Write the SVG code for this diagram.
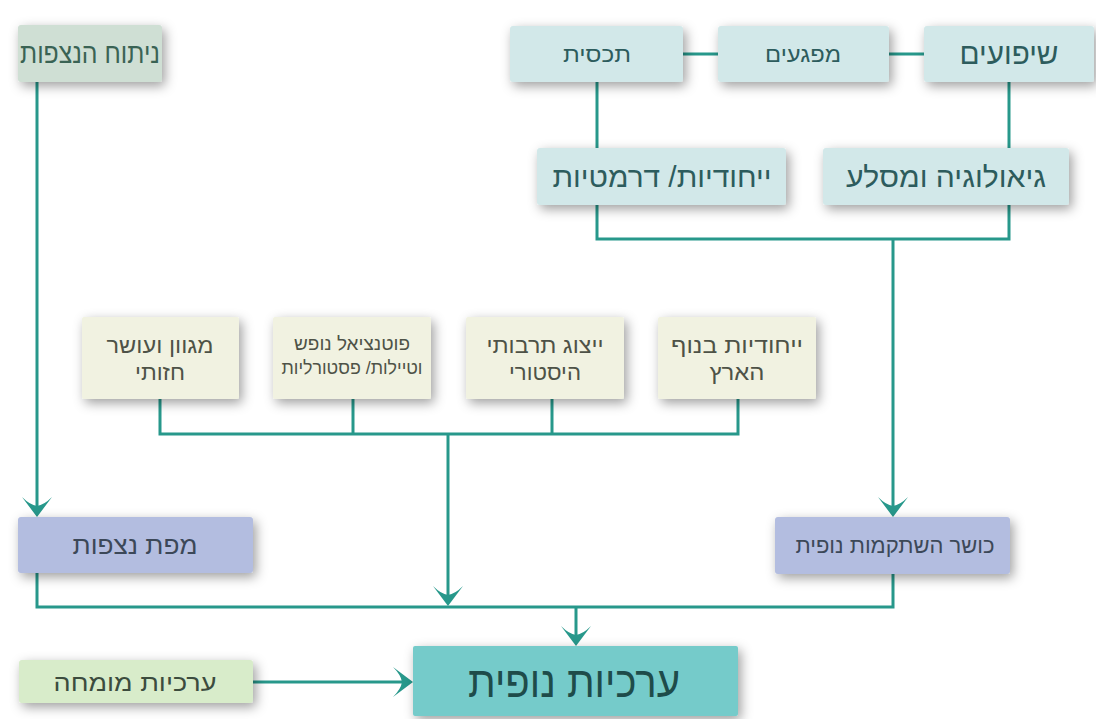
<svg xmlns="http://www.w3.org/2000/svg" width="1096" height="719" viewBox="0 0 1096 719">
<defs>
<filter id="sh" x="-20%" y="-40%" width="140%" height="190%">
<feDropShadow dx="3" dy="4" stdDeviation="6" flood-color="#000" flood-opacity="0.38"/>
</filter>
<marker id="ah" markerUnits="userSpaceOnUse" markerWidth="20" markerHeight="32" viewBox="0 0 20 32" refX="16" refY="16" orient="auto">
<path d="M20,16 L0,1 Q8,9 9,16 Q8,23 0,31 Z" fill="#27988b"/>
</marker>
</defs>
<style>
.n rect{filter:url(#sh);}
.c path{fill:none;stroke:#27988b;stroke-width:3;}
text{font-family:"Liberation Sans","DejaVu Sans",sans-serif;text-anchor:middle;direction:rtl;}
.teal rect{fill:#d2e8e9;} .teal text{fill:#2d5c5d;}
.cream rect{fill:#f1f2e1;} .cream text{fill:#4e5247;}
.lav rect{fill:#b3bde0;} .lav text{fill:#3c4858;}
.grn rect{fill:#d8ecca;} .grn text{fill:#3c4c3e;}
.gg rect{fill:#cfdfd4;} .gg text{fill:#3a6354;}
.main rect{fill:#74cbca;} .main text{fill:#1e4c4a;}
</style>
<rect width="1096" height="719" fill="#ffffff"/>
<g id="connectors" class="c">
<path d="M37,82 V513" marker-end="url(#ah)"/>
<path d="M683,54 H718"/>
<path d="M889,54 H924"/>
<path d="M597,82 V148"/>
<path d="M1009,82 V148"/>
<path d="M597,205 V239 H1009 V205"/>
<path d="M893,239 V513" marker-end="url(#ah)"/>
<path d="M160,399 V434 H738 V399"/>
<path d="M353,399 V434"/>
<path d="M552,399 V434"/>
<path d="M448,434 V602" marker-end="url(#ah)"/>
<path d="M37,573 V607 H893 V574"/>
<path d="M576,607 V642" marker-end="url(#ah)"/>
<path d="M253,682 H409" marker-end="url(#ah)"/>
</g>
<g id="n-nituach" class="n gg"><rect x="18" y="25" width="144" height="57" rx="3"/><text x="90" y="63" font-size="28" textLength="140" lengthAdjust="spacingAndGlyphs">ניתוח הנצפות</text></g>
<g id="n-tachsit" class="n teal"><rect x="510" y="26" width="173" height="56" rx="3"/><text x="597" y="62" font-size="22" textLength="68" lengthAdjust="spacingAndGlyphs">תכסית</text></g>
<g id="n-mifgaim" class="n teal"><rect x="718" y="26" width="171" height="56" rx="3"/><text x="803" y="62" font-size="22" textLength="76" lengthAdjust="spacingAndGlyphs">מפגעים</text></g>
<g id="n-shipuim" class="n teal"><rect x="924" y="26" width="170" height="56" rx="3"/><text x="1009" y="64" font-size="30" textLength="99" lengthAdjust="spacingAndGlyphs">שיפועים</text></g>
<g id="n-yichudiyut" class="n teal"><rect x="537" y="148" width="249" height="57" rx="3"/><text x="662" y="187" font-size="29" textLength="219" lengthAdjust="spacingAndGlyphs">ייחודיות/ דרמטיות</text></g>
<g id="n-geologia" class="n teal"><rect x="823" y="148" width="246" height="57" rx="3"/><text x="946" y="187" font-size="29" textLength="200" lengthAdjust="spacingAndGlyphs">גיאולוגיה ומסלע</text></g>
<g id="n-migvan" class="n cream"><rect x="82" y="317" width="157" height="82" rx="2"/><text x="160" y="353" font-size="22" textLength="107" lengthAdjust="spacingAndGlyphs">מגוון ועושר</text><text x="160" y="380" font-size="22" textLength="50" lengthAdjust="spacingAndGlyphs">חזותי</text></g>
<g id="n-potential" class="n cream"><rect x="273" y="317" width="158" height="82" rx="2"/><text x="352" y="350" font-size="19" textLength="116" lengthAdjust="spacingAndGlyphs">פוטנציאל נופש</text><text x="352" y="374" font-size="19" textLength="141" lengthAdjust="spacingAndGlyphs">וטיילות/ פסטורליות</text></g>
<g id="n-yitzug" class="n cream"><rect x="466" y="317" width="158" height="82" rx="2"/><text x="545" y="353" font-size="22" textLength="117" lengthAdjust="spacingAndGlyphs">ייצוג תרבותי</text><text x="545" y="380" font-size="22" textLength="72" lengthAdjust="spacingAndGlyphs">היסטורי</text></g>
<g id="n-nof" class="n cream"><rect x="658" y="317" width="158" height="82" rx="2"/><text x="737" y="353" font-size="22" textLength="132" lengthAdjust="spacingAndGlyphs">ייחודיות בנוף</text><text x="737" y="380" font-size="22" textLength="55" lengthAdjust="spacingAndGlyphs">הארץ</text></g>
<g id="n-mapat" class="n lav"><rect x="18" y="517" width="235" height="56" rx="3"/><text x="135" y="554" font-size="25" textLength="125" lengthAdjust="spacingAndGlyphs">מפת נצפות</text></g>
<g id="n-kosher" class="n lav"><rect x="775" y="517" width="235" height="57" rx="3"/><text x="895" y="553" font-size="22" textLength="199" lengthAdjust="spacingAndGlyphs">כושר השתקמות נופית</text></g>
<g id="n-mumche" class="n grn"><rect x="19" y="660" width="234" height="43" rx="3"/><text x="135" y="691" font-size="24" textLength="163" lengthAdjust="spacingAndGlyphs">ערכיות מומחה</text></g>
<g id="n-arkiyut" class="n main"><rect x="413" y="646" width="325" height="70" rx="2"/><text x="574" y="697" font-size="44" textLength="212" lengthAdjust="spacingAndGlyphs">ערכיות נופית</text></g>
</svg>
